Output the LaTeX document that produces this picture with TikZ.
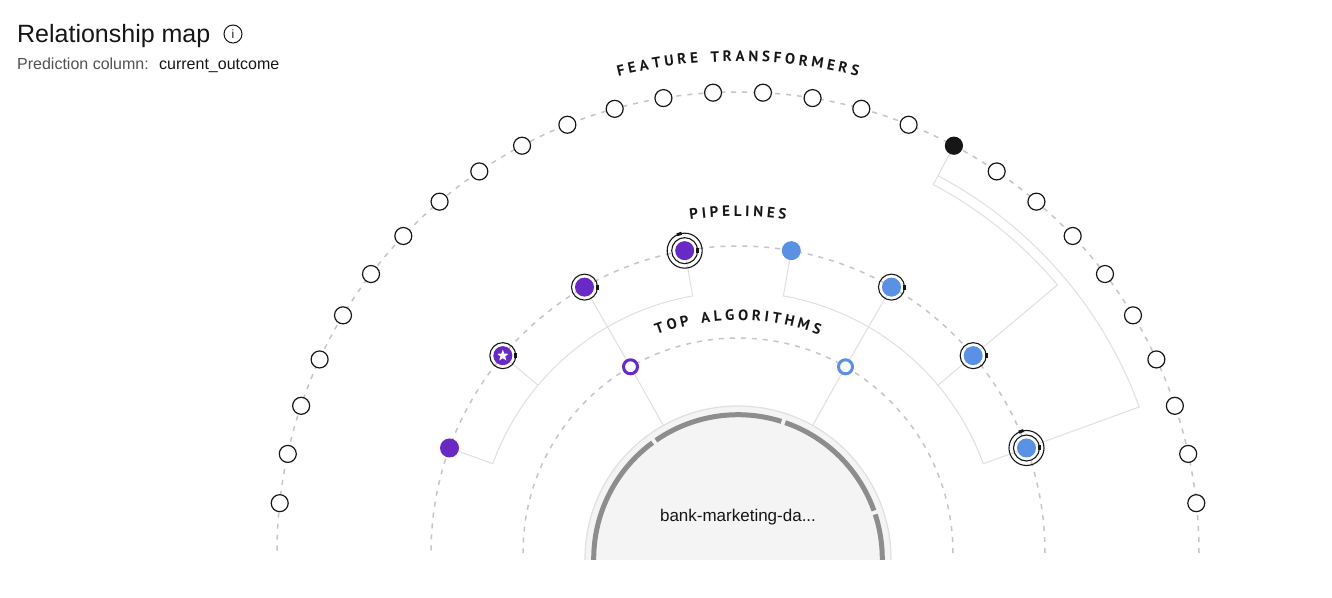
\documentclass[tikz,border=0pt]{standalone}
\usepackage{fontspec}
\setmainfont{Liberation Sans}
\newfontfamily\arcfont{PT Sans}
\usepackage{tikz}
\usetikzlibrary{shapes.geometric,backgrounds}
\definecolor{ink}{HTML}{161616}
\definecolor{subtle}{HTML}{525252}
\definecolor{dashgrey}{HTML}{C6C6C6}
\definecolor{linkgrey}{HTML}{E0E0E0}
\definecolor{ringgrey}{HTML}{8D8D8D}
\definecolor{hubfill}{HTML}{F4F4F4}
\definecolor{algpurple}{HTML}{6929C4}
\definecolor{algblue}{HTML}{5A91E5}

% letters set along an arc: radius, tracking, name prefix, letters
\newcommand\arclabel[4]{%
  \begingroup
  \arcfont\bfseries\fontsize{15}{15}\selectfont
  \gdef\arclen{0}%
  \foreach \ch in {#4}{%
    \ifx\ch\empty\def\w{5}\else\pgfmathwidth{"\ch"}\let\w\pgfmathresult\fi
    \pgfmathsetmacro\arclen{\arclen+\w+#2}\xdef\arclen{\arclen}}%
  \pgfmathsetmacro\arcpos{-(\arclen-#2)/2}\xdef\arcpos{\arcpos}%
  \foreach \ch [count=\k] in {#4}{%
    \ifx\ch\empty\def\w{5}\else\pgfmathwidth{"\ch"}\let\w\pgfmathresult\fi
    \pgfmathsetmacro\ang{-(\arcpos+\w/2)/#1*180/pi}%
    \node[arclbl, rotate=\ang] (#3\k) at ({90+\ang}:#1) {\ch};
    \pgfmathsetmacro\arcpos{\arcpos+\w+#2}\xdef\arcpos{\arcpos}}%
  \endgroup}

\begin{document}
\begin{tikzpicture}[x=1pt, y=1pt,
    orbit/.style={dashgrey, line width=1.5pt, dash pattern=on 5pt off 6pt},
    link/.style={linkgrey, line width=1pt},
    ftnode/.style={circle, draw=ink, line width=1.2pt, minimum size=17pt, inner sep=0pt},
    plnode/.style={circle, minimum size=19pt, inner sep=0pt},
    algnode/.style={circle, fill=white, line width=3pt, minimum size=14pt, inner sep=0pt},
    hub/.style={circle, fill=hubfill, draw=linkgrey, line width=1.2pt, minimum size=306pt, inner sep=0pt},
    ringline/.style={ink, line width=1.1pt},
    headtext/.style={anchor=base west, inner sep=0pt, text=ink},
    arclbl/.style={inner sep=0pt, text=ink, font=\arcfont\bfseries\fontsize{15}{15}\selectfont}]
\useasboundingbox (-738,-44) rectangle (594,553);

\node[headtext, font=\fontsize{25}{30}\selectfont] (title) at (-721,510) {Relationship map};
\node[circle, draw=ink, line width=1pt, minimum size=18pt, inner sep=0pt, text=ink, font=\fontsize{12}{12}\selectfont] (info) at (-505,519) {i};
\node[headtext, text=subtle, font=\fontsize{16}{19}\selectfont] (predlbl) at (-721,483) {Prediction column:};
\node[headtext, font=\fontsize{16}{19}\selectfont] (predval) at (-579,483) {current\_outcome};

\draw[orbit] (461,0) arc[start angle=0, end angle=180, radius=461pt];
\draw[orbit] (307,0) arc[start angle=0, end angle=180, radius=307pt];
\draw[orbit] (215,0) arc[start angle=0, end angle=180, radius=215pt];

\begin{scope}
  \clip (-160,-6) rectangle (160,160);
  \node[hub] (data) at (0,-6) {};
  \foreach \a/\b in {-10/18, 19.6/70.9, 72.5/124.7, 126.3/190}
    \draw[ringgrey, line width=5pt] (0,-6) ++(\a:144.3) arc[start angle=\a, end angle=\b, radius=144.3pt];
\end{scope}
\node[anchor=base, text=ink, font=\fontsize{17}{20}\selectfont] (datalbl) at (0,31.5) {bank-marketing-da...};

\foreach \i in {1,...,28}{
  \ifnum\i=10 \def\ftfill{ink}\else\def\ftfill{white}\fi
  \node[ftnode, fill=\ftfill] (ft\i) at ({\i*180/29}:461) {};
}

\foreach \i/\c in {1/algblue,2/algblue,3/algblue,4/algblue,5/algpurple,6/algpurple,7/algpurple,8/algpurple}
  \node[plnode, fill=\c] (pl\i) at ({\i*20}:307) {};
\node[star, star points=5, star point ratio=2.4, fill=white, inner sep=0pt, minimum size=12pt] (pl7star) at (pl7) {};

\foreach \p in {pl2,pl3,pl6,pl7}{
  \draw[ringline] (\p) circle[radius=13pt];
  \fill[ink, shift={(\p)}] (11.5pt,-2.5pt) rectangle (14.5pt,2.5pt);
}
\foreach \p in {pl1,pl5}{
  \draw[ringline] (\p) circle[radius=13pt] (\p) circle[radius=17.5pt];
  \fill[ink, shift={(\p)}] (11.5pt,-2.5pt) rectangle (14.5pt,2.5pt);
  \fill[ink, shift={(\p)}, rotate=108] (16pt,-2.5pt) rectangle (19pt,2.5pt);
}

\node[algnode, draw=algblue] (alg1) at (60:215) {};
\node[algnode, draw=algpurple] (alg2) at (120:215) {};

\begin{scope}[on background layer]
  \fill[white] (-738,-44) rectangle (594,553);
  \draw[link] (data) -- (alg1) -- (pl3);
  \draw[link] (data) -- (alg2) -- (pl6);
  \draw[link] (pl4) -- (80:261) arc[start angle=80, end angle=20, radius=261pt] -- (pl1);
  \draw[link] (pl2) -- (40:261);
  \draw[link] (pl5) -- (100:261) arc[start angle=100, end angle=160, radius=261pt] -- (pl8);
  \draw[link] (pl7) -- (140:261);
  \draw[link] (ft10) -- ({1800/29}:417) arc[start angle={1800/29}, end angle=40, radius=417pt] -- (pl2);
  \draw[link] ({1800/29}:427) arc[start angle={1800/29}, end angle=20, radius=427pt] -- (pl1);
\end{scope}

\arclabel{497}{3.8}{ftl}{F,E,A,T,U,R,E,{},T,R,A,N,S,F,O,R,M,E,R,S}
\arclabel{342}{3.8}{pll}{P,I,P,E,L,I,N,E,S}
\arclabel{238}{3.8}{tal}{T,O,P,{},A,L,G,O,R,I,T,H,M,S}
\end{tikzpicture}
\end{document}
